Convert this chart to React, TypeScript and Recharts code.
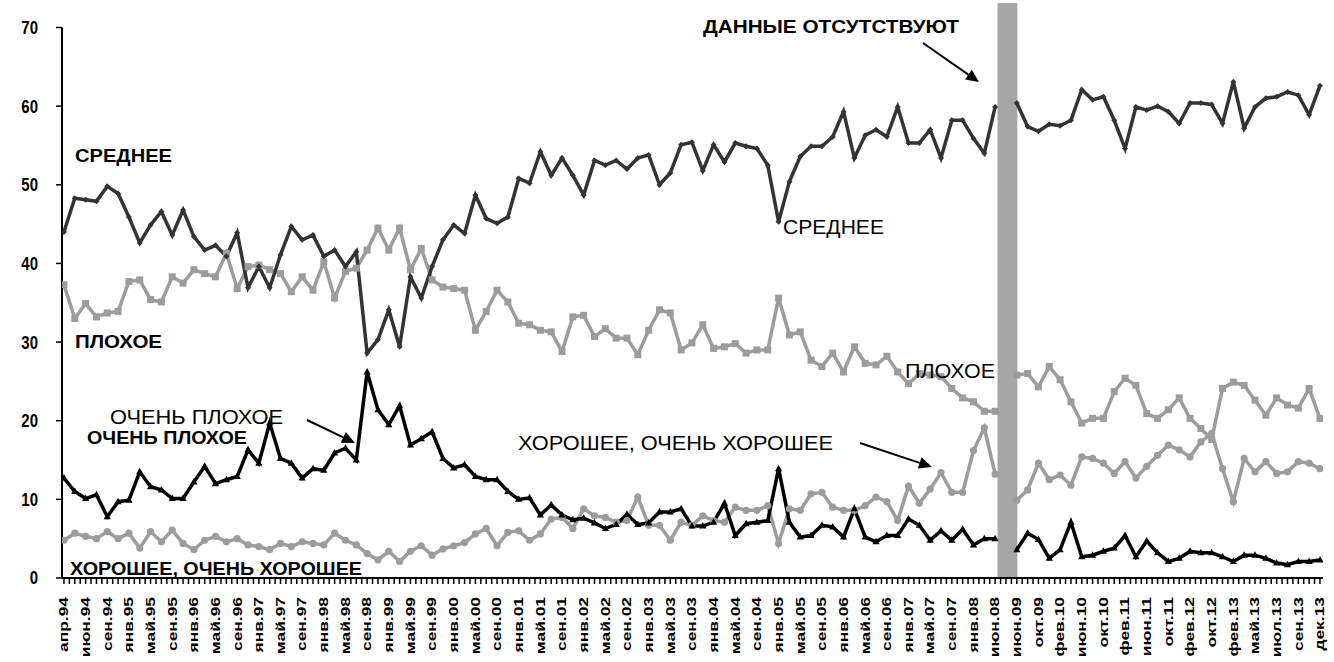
import React from "react"
import {
	LineChart,
	Line,
	XAxis,
	YAxis,
	ReferenceArea
} from "recharts"


// survey waves, one label every second wave
const periodLabels = [
	"апр.94", "июн.94", "сен.94", "янв.95", "май.95", "сен.95", "янв.96", "май.96", "сен.96", "янв.97",
	"май.97", "сен.97", "янв.98", "май.98", "сен.98", "янв.99", "май.99", "сен.99", "янв.00", "май.00",
	"сен.00", "янв.01", "май.01", "сен.01", "янв.02", "май.02", "сен.02", "янв.03", "май.03", "сен.03",
	"янв.04", "май.04", "сен.04", "янв.05", "май.05", "сен.05", "янв.06", "май.06", "сен.06", "янв.07",
	"май.07", "сен.07", "янв.08", "июн.08", "июн.09", "окт.09", "фев.10", "июн.10", "окт.10", "фев.11",
	"июн.11", "окт.11", "фев.12", "окт.12", "фев.13", "май.13", "июл.13", "сен.13", "дек.13"
]

// СРЕДНЕЕ
const average = [
	44.0, 48.3, 48.1, 47.9, 49.8, 48.9, 45.9, 42.6, 44.9, 46.6,
	43.6, 46.8, 43.4, 41.7, 42.3, 40.9, 43.9, 36.9, 39.6, 36.9,
	41.1, 44.7, 43.0, 43.6, 40.9, 41.7, 39.6, 41.5, 28.6, 30.3,
	34.1, 29.4, 38.3, 35.6, 39.6, 43.0, 44.9, 43.8, 48.7, 45.7,
	45.1, 45.9, 50.8, 50.2, 54.2, 51.2, 53.4, 51.2, 48.7, 53.1,
	52.5, 53.1, 52.0, 53.4, 53.8, 50.0, 51.5, 55.1, 55.4, 51.8,
	55.1, 52.9, 55.3, 54.9, 54.6, 52.5, 45.3, 50.4, 53.6, 54.9,
	54.9, 56.1, 59.3, 53.4, 56.3, 57.0, 56.1, 59.9, 55.3, 55.3,
	57.0, 53.4, 58.2, 58.2, 55.9, 54.0, 59.9, null, 60.4, 57.4,
	56.8, 57.7, 57.5, 58.2, 62.1, 60.8, 61.2, 58.2, 54.6, 59.9,
	59.5, 60.0, 59.3, 57.8, 60.4, 60.4, 60.2, 57.8, 63.1, 57.2,
	59.9, 61.0, 61.2, 61.8, 61.4, 58.9, 62.6
]

// ПЛОХОЕ
const bad = [
	37.3, 33.0, 34.9, 33.2, 33.7, 33.9, 37.7, 37.9, 35.4, 35.1,
	38.3, 37.5, 39.2, 38.7, 38.3, 41.3, 36.8, 39.6, 39.8, 39.2,
	38.7, 36.4, 38.3, 36.6, 40.2, 35.6, 39.0, 39.4, 41.7, 44.5,
	41.7, 44.5, 39.2, 41.9, 37.9, 37.0, 36.8, 36.6, 31.5, 33.9,
	36.6, 35.1, 32.4, 32.2, 31.5, 31.3, 28.8, 33.2, 33.4, 30.7,
	31.7, 30.5, 30.5, 28.4, 31.5, 34.1, 33.7, 29.0, 29.9, 32.2,
	29.2, 29.4, 29.8, 28.6, 29.0, 29.0, 35.6, 30.9, 31.3, 27.7,
	26.9, 28.6, 26.2, 29.4, 27.3, 27.1, 28.2, 26.2, 24.7, 26.0,
	25.8, 25.6, 24.1, 22.9, 22.4, 21.2, 21.2, null, 25.8, 26.0,
	24.3, 26.9, 25.2, 22.4, 19.7, 20.3, 20.3, 23.7, 25.4, 24.5,
	20.9, 20.3, 21.4, 22.9, 20.3, 19.0, 17.6, 24.1, 24.9, 24.5,
	22.6, 20.7, 22.9, 22.0, 21.6, 24.1, 20.3
]

// ОЧЕНЬ ПЛОХОЕ
const veryBad = [
	12.7, 11.0, 10.1, 10.6, 7.8, 9.7, 9.9, 13.5, 11.6, 11.2,
	10.1, 10.1, 12.2, 14.2, 12.0, 12.5, 12.9, 16.3, 14.6, 19.7,
	15.2, 14.6, 12.7, 13.9, 13.7, 15.9, 16.5, 15.0, 26.2, 21.4,
	19.5, 21.9, 16.9, 17.7, 18.6, 15.2, 14.0, 14.4, 12.9, 12.5,
	12.5, 11.0, 10.0, 10.2, 8.0, 9.3, 8.0, 7.4, 7.6, 7.0,
	6.3, 6.8, 8.1, 6.8, 7.0, 8.4, 8.4, 8.8, 6.6, 6.6,
	7.1, 9.5, 5.4, 6.9, 7.1, 7.3, 13.9, 7.1, 5.2, 5.4,
	6.7, 6.5, 5.2, 8.8, 5.2, 4.6, 5.4, 5.4, 7.5, 6.7,
	4.8, 6.0, 4.8, 6.2, 4.2, 5.0, 5.0, null, 3.6, 5.7,
	4.9, 2.5, 3.6, 7.1, 2.7, 2.9, 3.4, 3.8, 5.4, 2.7,
	4.7, 3.2, 2.1, 2.5, 3.4, 3.2, 3.2, 2.7, 2.1, 2.9,
	2.9, 2.5, 1.9, 1.7, 2.1, 2.1, 2.3
]

// ХОРОШЕЕ, ОЧЕНЬ ХОРОШЕЕ
const good = [
	4.8, 5.7, 5.3, 5.0, 5.9, 5.0, 5.7, 3.8, 5.9, 4.6,
	6.1, 4.4, 3.6, 4.8, 5.3, 4.6, 5.0, 4.2, 4.0, 3.6,
	4.4, 4.0, 4.6, 4.4, 4.2, 5.7, 4.8, 4.2, 3.1, 2.3,
	3.4, 2.1, 3.4, 4.1, 2.9, 3.7, 4.1, 4.5, 5.6, 6.3,
	4.1, 5.8, 6.0, 4.8, 5.6, 7.5, 7.7, 6.3, 8.8, 7.9,
	7.7, 7.1, 7.3, 10.3, 6.7, 6.7, 4.8, 7.1, 6.7, 7.9,
	7.3, 7.1, 9.0, 8.6, 8.6, 9.2, 4.4, 8.8, 8.6, 10.7,
	10.9, 9.0, 8.6, 8.6, 9.2, 10.3, 9.7, 7.3, 11.7, 9.5,
	11.3, 13.4, 10.9, 10.9, 16.2, 19.1, 13.2, null, 9.9, 11.2,
	14.6, 12.5, 13.1, 11.8, 15.4, 15.2, 14.6, 13.3, 14.8, 12.7,
	14.2, 15.6, 16.9, 16.3, 15.4, 17.3, 18.4, 13.9, 9.7, 15.2,
	13.5, 14.8, 13.3, 13.5, 14.8, 14.6, 13.9
]

const yTicks = [0, 10, 20, 30, 40, 50, 60, 70]


const FONT = "'Liberation Sans', Arial, sans-serif"
const LIGHT = "#9c9c9c"
const DARK = "#333333"

const rows = average.map((v, i) => ({
	i,
	average: v,
	bad: bad[i],
	veryBad: veryBad[i],
	good: good[i]
}))

// a tick mark every half wave, as in the original axis
const xTicks = Array.from({ length: average.length * 2 - 1 }, (_, k) => k / 2)

const gapIndex = average.indexOf(null)


const XTick = (props: any) => {
	const { x, y, payload } = props
	const v = payload.value
	if (!Number.isInteger(v) || v % 2 !== 0) return <g />
	const label = periodLabels[v / 2]
	return (
		<g transform={`translate(${x},${y + 11})`}>
			<text
				transform="rotate(-90) scale(1.45,1)"
				textAnchor="end"
				dy="0.36em"
				fontFamily={FONT}
				fontWeight="bold"
				fontSize={12}
				fill="#000"
			>
				{label}
			</text>
		</g>
	)
}

const YTick = (props: any) => {
	const { x, y, payload } = props
	return (
		<text
			transform={`translate(${x - 16},${y}) scale(1,1.2)`}
			textAnchor="end"
			dy="0.36em"
			fontFamily={FONT}
			fontWeight="bold"
			fontSize={15}
			fill="#000"
		>
			{payload.value}
		</text>
	)
}


const noDot = (k: string) => <g key={k} />

const diamondDot = (p: any) => {
	if (p.cy == null || p.value == null) return noDot(`a${p.index}`)
	const s = 3
	return (
		<path
			key={`a${p.index}`}
			d={`M${p.cx},${p.cy - s}L${p.cx + s},${p.cy}L${p.cx},${p.cy + s}L${p.cx - s},${p.cy}Z`}
			fill={DARK}
		/>
	)
}

const squareDot = (p: any) => {
	if (p.cy == null || p.value == null) return noDot(`b${p.index}`)
	return <rect key={`b${p.index}`} x={p.cx - 3.5} y={p.cy - 3.5} width={7} height={7} fill={LIGHT} />
}

const triangleDot = (p: any) => {
	if (p.cy == null || p.value == null) return noDot(`c${p.index}`)
	return (
		<path
			key={`c${p.index}`}
			d={`M${p.cx},${p.cy - 4}L${p.cx + 3.6},${p.cy + 2.5}L${p.cx - 3.6},${p.cy + 2.5}Z`}
			fill="#000"
		/>
	)
}

const circleDot = (p: any) => {
	if (p.cy == null || p.value == null) return noDot(`d${p.index}`)
	return <circle key={`d${p.index}`} cx={p.cx} cy={p.cy} r={3.6} fill={LIGHT} />
}


const Arrow = ({ x1, y1, x2, y2 }: { x1: number, y1: number, x2: number, y2: number }) => {
	const a = Math.atan2(y2 - y1, x2 - x1)
	const len = 13
	const w = 6
	const bx = x2 - len * Math.cos(a)
	const by = y2 - len * Math.sin(a)
	const px = -Math.sin(a) * w
	const py = Math.cos(a) * w
	return (
		<g>
			<line x1={x1} y1={y1} x2={bx} y2={by} stroke="#000" strokeWidth={2} />
			<polygon points={`${x2},${y2} ${bx + px},${by + py} ${bx - px},${by - py}`} fill="#000" />
		</g>
	)
}

const BoldNote = ({ x, y, w, children }: any) => (
	<text
		x={x}
		y={y}
		textLength={w}
		lengthAdjust="spacingAndGlyphs"
		fontFamily={FONT}
		fontWeight="bold"
		fontSize={18}
		fill="#000"
	>
		{children}
	</text>
)

const PlainNote = ({ x, y, w, children }: any) => (
	<text
		x={x}
		y={y}
		textLength={w}
		lengthAdjust="spacingAndGlyphs"
		fontFamily={FONT}
		fontSize={20}
		fill="#000"
	>
		{children}
	</text>
)


export default function App() {

	return (
		<div style={{ position: "absolute", left: 0, top: 0, width: 1334, height: 662, background: "#fff" }}>

			<LineChart
				width={1334}
				height={662}
				data={rows}
				margin={{ top: 27.5, right: 11, left: 0, bottom: 0 }}
			>

				<XAxis
					dataKey="i"
					type="number"
					domain={[-0.18, 116.28]}
					allowDataOverflow
					ticks={xTicks}
					interval={0}
					height={84}
					tickSize={6}
					tick={<XTick />}
					axisLine={{ stroke: "#000", strokeWidth: 2 }}
					tickLine={{ stroke: "#000", strokeWidth: 1.5 }}
				/>

				<YAxis
					type="number"
					domain={[0, 70]}
					ticks={yTicks}
					interval={0}
					width={62}
					tickSize={6}
					tick={<YTick />}
					axisLine={{ stroke: "#000", strokeWidth: 2 }}
					tickLine={{ stroke: "#000", strokeWidth: 1.5 }}
				/>

				<Line
					dataKey="good"
					type="linear"
					stroke={LIGHT}
					strokeWidth={3.5}
					dot={circleDot}
					isAnimationActive={false}
				/>

				<Line
					dataKey="bad"
					type="linear"
					stroke={LIGHT}
					strokeWidth={3.5}
					dot={squareDot}
					isAnimationActive={false}
				/>

				<Line
					dataKey="average"
					type="linear"
					stroke={DARK}
					strokeWidth={3.5}
					dot={diamondDot}
					isAnimationActive={false}
				/>

				<Line
					dataKey="veryBad"
					type="linear"
					stroke="#000"
					strokeWidth={3.5}
					dot={triangleDot}
					isAnimationActive={false}
				/>

				<ReferenceArea
					x1={gapIndex - 0.78}
					x2={gapIndex + 1.05}
					y1={0}
					y2={73.1}
					ifOverflow="visible"
					fill="#a6a6a6"
					fillOpacity={1}
					stroke="none"
				/>

			</LineChart>


			<svg
				width={1334}
				height={662}
				style={{ position: "absolute", left: 0, top: 0, pointerEvents: "none" }}
			>
				<BoldNote x={75} y={162} w={97}>СРЕДНЕЕ</BoldNote>
				<BoldNote x={75} y={348} w={87}>ПЛОХОЕ</BoldNote>
				<BoldNote x={87} y={444} w={160}>ОЧЕНЬ ПЛОХОЕ</BoldNote>
				<BoldNote x={70} y={575} w={292}>ХОРОШЕЕ, ОЧЕНЬ ХОРОШЕЕ</BoldNote>
				<BoldNote x={703} y={33} w={256}>ДАННЫЕ ОТСУТСТВУЮТ</BoldNote>

				<PlainNote x={110} y={424} w={173}>ОЧЕНЬ ПЛОХОЕ</PlainNote>
				<PlainNote x={783} y={234} w={101}>СРЕДНЕЕ</PlainNote>
				<PlainNote x={905} y={378} w={90}>ПЛОХОЕ</PlainNote>
				<PlainNote x={518} y={450} w={315}>ХОРОШЕЕ, ОЧЕНЬ ХОРОШЕЕ</PlainNote>

				<Arrow x1={307} y1={420} x2={355} y2={443} />
				<Arrow x1={860} y1={443} x2={932} y2={467} />
				<Arrow x1={923} y1={43} x2={979} y2={82} />
			</svg>

		</div>
	)
}
